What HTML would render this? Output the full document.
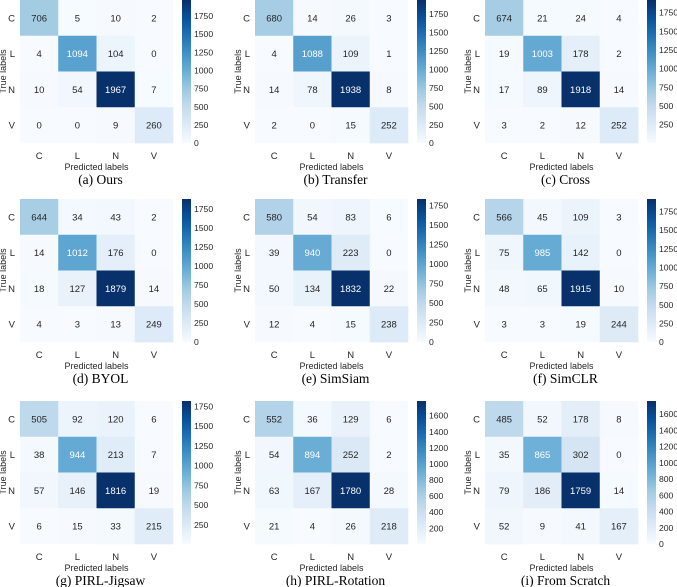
<!DOCTYPE html>
<html><head><meta charset="utf-8"><style>
html,body{margin:0;padding:0;background:#fff;}
svg{display:block;}
</style></head><body>
<svg id="fig" width="677" height="587" viewBox="0 0 677 587" xmlns="http://www.w3.org/2000/svg"></svg>
<script>
const classLabels = ["C","L","N","V"];
const captions = ["(a)  Ours","(b)  Transfer","(c)  Cross","(d)  BYOL","(e)  SimSiam","(f)  SimCLR","(g)  PIRL-Jigsaw","(h)  PIRL-Rotation","(i)  From Scratch"];
const mOurs = [[706,5,10,2],[4,1094,104,0],[10,54,1967,7],[0,0,9,260]];
const mTransfer = [[680,14,26,3],[4,1088,109,1],[14,78,1938,8],[2,0,15,252]];
const mCross = [[674,21,24,4],[19,1003,178,2],[17,89,1918,14],[3,2,12,252]];
const mBYOL = [[644,34,43,2],[14,1012,176,0],[18,127,1879,14],[4,3,13,249]];
const mSimSiam = [[580,54,83,6],[39,940,223,0],[50,134,1832,22],[12,4,15,238]];
const mSimCLR = [[566,45,109,3],[75,985,142,0],[48,65,1915,10],[3,3,19,244]];
const mJigsaw = [[505,92,120,6],[38,944,213,7],[57,146,1816,19],[6,15,33,215]];
const mRotation = [[552,36,129,6],[54,894,252,2],[63,167,1780,28],[21,4,26,218]];
const mScratch = [[485,52,178,8],[35,865,302,0],[79,186,1759,14],[52,9,41,167]];
const matrices = [mOurs,mTransfer,mCross,mBYOL,mSimSiam,mSimCLR,mJigsaw,mRotation,mScratch];
const tickStep = [250,250,250,250,250,250,250,200,200];

const blues = ["#f7fbff","#deebf7","#c6dbef","#9ecae1","#6baed6","#4292c6","#2171b5","#08519c","#08306b"];
function hex2rgb(h){return [1,3,5].map(i=>parseInt(h.substr(i,2),16));}
const bluesRGB = blues.map(hex2rgb);
function cmap(t){
  t=Math.max(0,Math.min(1,t));
  const p=t*8, i=Math.min(7,Math.floor(p)), f=p-i;
  const a=bluesRGB[i], b=bluesRGB[i+1];
  return a.map((v,k)=>Math.round(v+(b[k]-v)*f));
}
function lum(c){
  const l=c.map(v=>{v/=255;return v<=0.03928?v/12.92:Math.pow((v+0.055)/1.055,2.4);});
  return 0.2126*l[0]+0.7152*l[1]+0.0722*l[2];
}
const NS="http://www.w3.org/2000/svg";
const svg=document.getElementById('fig');
function mk(tag,attrs,parent){const e=document.createElementNS(NS,tag);for(const k in attrs)e.setAttribute(k,attrs[k]);(parent||svg).appendChild(e);return e;}
const colX=[20,255,485], rowY=[0,199,401];
const W=153,H=143,cw=W/4,ch=H/4;
const sans='"Liberation Sans", Arial, sans-serif';
const serif='"Liberation Serif", serif';

matrices.forEach((m,pi)=>{
  const x0=colX[pi%3], y0=rowY[Math.floor(pi/3)];
  const g=mk('g',{});
  
  
  const flat=m.flat(), vmin=Math.min(...flat), vmax=Math.max(...flat);
  const xs=j=>x0+j*cw, ys=i=>y0+i*ch;
  m.forEach((row,i)=>row.forEach((v,j)=>{
    const c=cmap((v-vmin)/(vmax-vmin));
    const r=mk('rect',{x:xs(j),y:ys(i),width:cw+0.3,height:ch+0.3,fill:`rgb(${c})`},g);
    
    
    const t=mk('text',{x:xs(j)+cw/2,y:ys(i)+ch/2+3.5,'text-anchor':'middle','font-family':sans,'font-size':'9.5',fill:lum(c)>0.408?'#262626':'#ffffff'},g);
    t.textContent=v;
    
    
  }));
  classLabels.forEach((l,k)=>{
    const ty=mk('text',{x:x0-5,y:ys(k)+ch/2+3.5,'text-anchor':'end','font-family':sans,'font-size':'9.5',fill:'#262626'},g);
    ty.textContent=l;
    
    
    const tx=mk('text',{x:xs(k)+cw/2,y:y0+H+16,'text-anchor':'middle','font-family':sans,'font-size':'9.5',fill:'#262626'},g);
    tx.textContent=l;
    
    
  });
  const yl=mk('text',{x:0,y:0,transform:`translate(${x0-14},${y0+H/2}) rotate(-90)`,'text-anchor':'middle','font-family':sans,'font-size':'9',fill:'#262626'},g);
  yl.textContent='True labels';
  
  
  const xl=mk('text',{x:x0+W/2,y:y0+H+27,'text-anchor':'middle','font-family':sans,'font-size':'9',fill:'#262626'},g);
  xl.textContent='Predicted labels';
  
  
  const cap=mk('text',{x:x0+W/2+4,y:y0+H+41,'text-anchor':'middle','font-family':serif,'font-size':'13.5',fill:'#000'},g);
  cap.textContent=captions[pi];
  
  
  // colorbar
  const cbx=x0+162, cbw=9;
  const gid='grad'+pi;
  const defs=mk('defs',{},g);
  const lg=mk('linearGradient',{id:gid,x1:0,y1:1,x2:0,y2:0},defs);
  blues.forEach((c,k)=>mk('stop',{offset:k/8,'stop-color':c},lg));
  const cb=mk('rect',{x:cbx,y:y0,width:cbw,height:H,fill:`url(#${gid})`},g);
  
  
  const cy=v=>y0+H-(v-vmin)/(vmax-vmin)*H;
  const step=tickStep[pi];
  for(let v=Math.ceil(vmin/step)*step; v<=vmax; v+=step){
    const t=mk('text',{x:cbx+cbw+3,y:cy(v)+3.2,'font-family':sans,'font-size':'8.6',fill:'#262626'},g);
    t.textContent=v;
    
    
  }
});
</script>
</body></html>
